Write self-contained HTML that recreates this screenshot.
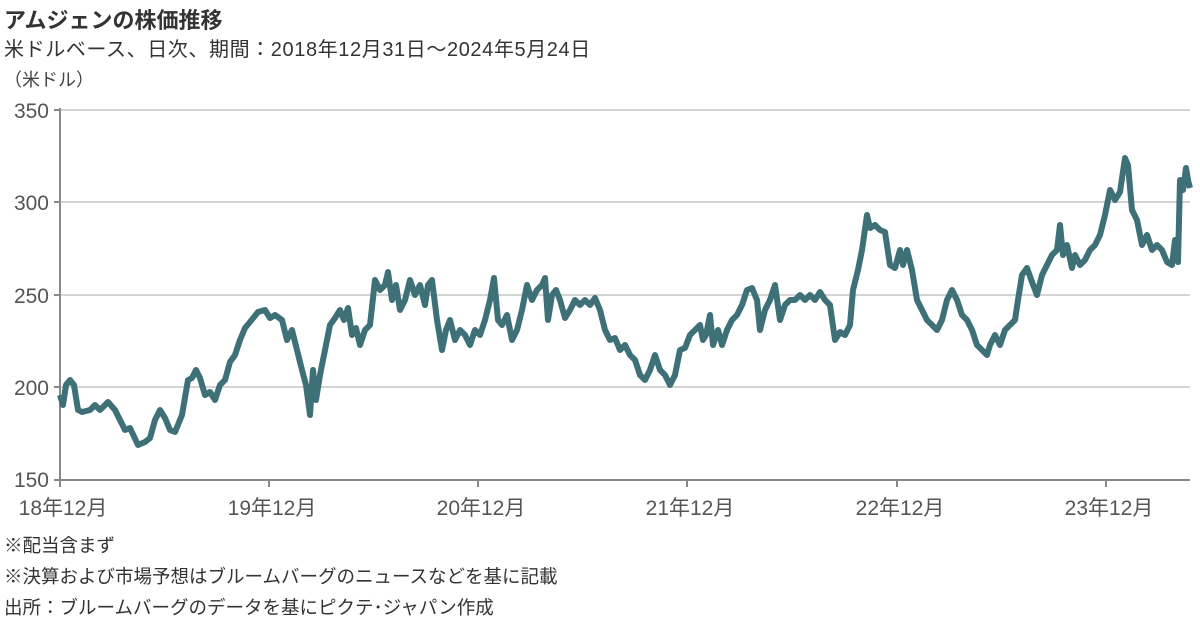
<!DOCTYPE html>
<html><head><meta charset="utf-8"><style>
body{margin:0;background:#fff;width:1200px;height:622px;overflow:hidden;font-family:"Liberation Sans","Noto Sans CJK JP",sans-serif;color:#222}
.t{position:absolute;white-space:nowrap}
</style></head><body>
<div class="t" style="left:4px;top:3px;font-size:22px;font-weight:bold;color:#333">アムジェンの株価推移</div>
<div class="t" style="left:4px;top:33px;font-size:20px;letter-spacing:0.6px;color:#333">米ドルベース、日次、期間：2018年12月31日～2024年5月24日</div>
<div class="t" style="left:4px;top:66px;font-size:18px;color:#444">（米ドル）</div>
<svg width="1200" height="622" style="position:absolute;left:0;top:0">
<g stroke="#d4d4d4" stroke-width="2">
<line x1="60" y1="110" x2="1190" y2="110"/><line x1="60" y1="202" x2="1190" y2="202"/>
<line x1="60" y1="295" x2="1190" y2="295"/><line x1="60" y1="387" x2="1190" y2="387"/>
</g>
<g stroke="#888" stroke-width="2">
<line x1="60" y1="108" x2="60" y2="480"/><line x1="54" y1="480" x2="1190" y2="480"/>
<line x1="54" y1="110" x2="60" y2="110"/><line x1="54" y1="202" x2="60" y2="202"/><line x1="54" y1="295" x2="60" y2="295"/><line x1="54" y1="387" x2="60" y2="387"/>
<line x1="60" y1="480" x2="60" y2="487"/><line x1="269" y1="480" x2="269" y2="487"/><line x1="478" y1="480" x2="478" y2="487"/><line x1="687" y1="480" x2="687" y2="487"/><line x1="897" y1="480" x2="897" y2="487"/><line x1="1106" y1="480" x2="1106" y2="487"/>
</g>
<g font-family="Liberation Sans, Noto Sans CJK JP, sans-serif" font-size="21" fill="#555" text-anchor="end">
<text x="49" y="118">350</text><text x="49" y="210">300</text><text x="49" y="303">250</text><text x="49" y="395">200</text><text x="49" y="487">150</text>
</g>
<g font-family="Liberation Sans, Noto Sans CJK JP, sans-serif" font-size="21" fill="#555" text-anchor="middle">
<text x="63" y="515">18年12月</text><text x="272" y="515">19年12月</text><text x="481" y="515">20年12月</text><text x="690" y="515">21年12月</text><text x="900" y="515">22年12月</text><text x="1109" y="515">23年12月</text>
</g>
<polyline fill="none" stroke="#3e7078" stroke-width="6" stroke-linejoin="round" points="60,395 63,405 66,385 70,380 74,385 78,410 82,412 90,410 95,405 100,410 108,402 115,410 120,420 125,430 130,428 138,445 145,442 150,438 155,420 160,410 165,418 170,430 175,432 182,415 188,380 192,378 196,370 200,378 205,395 210,392 215,400 220,385 225,380 230,362 235,355 240,340 245,328 250,322 258,312 265,310 270,318 275,315 282,320 287,340 292,330 297,350 302,370 306,385 310,415 313,370 316,400 320,375 323,360 327,340 330,325 335,318 340,310 344,320 348,308 352,335 356,328 360,345 365,330 370,325 375,280 380,290 385,285 388,272 392,300 396,285 400,310 405,300 410,280 415,295 420,285 425,305 428,285 432,280 437,320 442,350 446,330 450,320 455,340 460,330 465,335 470,345 475,330 480,335 485,320 490,300 494,278 498,320 502,325 507,315 512,340 517,330 522,310 527,285 532,300 537,290 542,285 545,278 548,320 552,295 556,290 560,300 565,318 570,310 575,300 580,305 585,300 590,305 595,298 600,310 605,330 610,340 615,338 620,350 625,345 630,355 635,360 640,375 645,380 650,370 655,355 660,370 665,375 670,385 675,375 680,350 685,348 690,335 695,330 700,325 703,340 706,335 710,315 713,345 718,330 722,345 727,330 732,320 737,315 742,305 747,290 752,288 757,300 760,330 765,310 770,300 775,285 780,320 785,305 790,300 795,300 800,295 805,300 810,295 815,300 820,292 825,300 830,305 835,340 840,332 845,335 850,325 853,290 858,270 862,250 867,215 870,228 875,225 880,230 885,232 890,265 895,268 900,250 903,265 907,250 912,270 917,300 922,310 927,320 932,325 937,330 942,320 947,300 952,290 957,300 962,315 967,320 972,330 977,345 982,350 987,355 990,345 995,335 1000,345 1005,330 1010,325 1015,320 1018,300 1022,275 1027,268 1032,282 1037,295 1042,275 1047,265 1052,255 1057,250 1060,225 1063,255 1067,245 1072,268 1075,255 1080,265 1085,260 1090,250 1095,245 1100,235 1105,215 1110,190 1115,200 1120,192 1125,158 1128,165 1132,210 1137,220 1142,245 1147,235 1152,250 1157,245 1162,250 1167,262 1172,265 1175,240 1178,262 1180,180 1183,190 1186,168 1188,180 1190,188"/>
</svg>
<div class="t" style="left:4px;top:532px;font-size:18.5px;color:#333">※配当含まず</div>
<div class="t" style="left:4px;top:563px;font-size:18.5px;color:#333">※決算および市場予想はブルームバーグのニュースなどを基に記載</div>
<div class="t" style="left:4px;top:594px;font-size:18.5px;color:#333">出所：ブルームバーグのデータを基にピクテ･ジャパン作成</div>
</body></html>
